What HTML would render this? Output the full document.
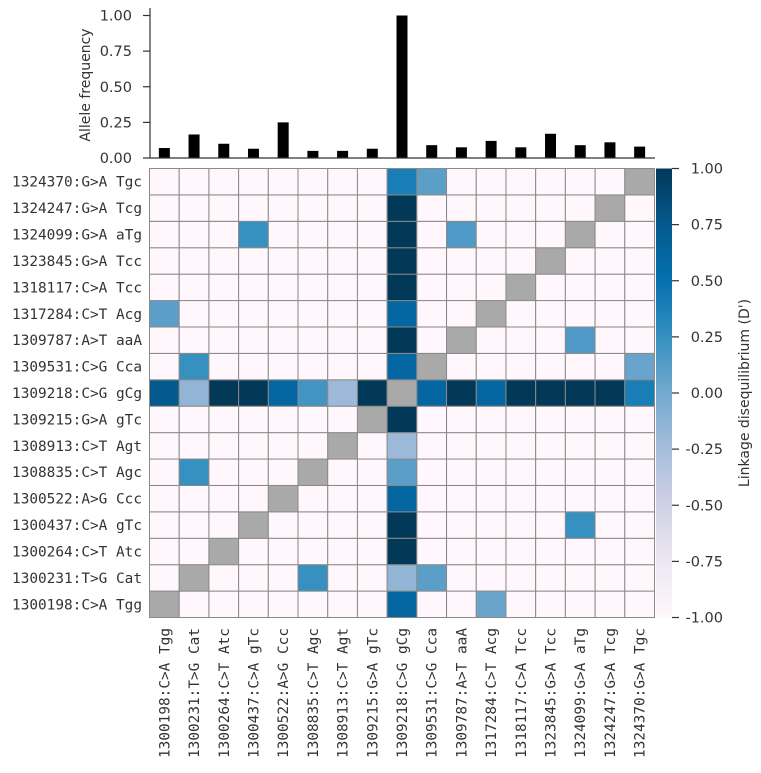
<!DOCTYPE html>
<html><head><meta charset="utf-8"><style>
body{margin:0;background:#fff}
svg text{font-family:"DejaVu Sans","Liberation Sans",sans-serif;fill:#333}
.mono{font-family:"DejaVu Sans Mono","Liberation Mono",monospace;font-size:14.4px}
</style></head><body>
<svg id="chart" width="761" height="768" xmlns="http://www.w3.org/2000/svg">
<defs><linearGradient id="cbg" x1="0" y1="1" x2="0" y2="0">
<stop offset="0" stop-color="#fff7fb"/><stop offset="0.125" stop-color="#ece7f2"/><stop offset="0.25" stop-color="#d0d1e6"/><stop offset="0.375" stop-color="#a6bddb"/><stop offset="0.5" stop-color="#74a9cf"/><stop offset="0.625" stop-color="#3690c0"/><stop offset="0.75" stop-color="#0570b0"/><stop offset="0.875" stop-color="#045a8d"/><stop offset="1" stop-color="#023858"/></linearGradient></defs>
</svg>
<script>
const variants=["1300198:C>A Tgg","1300231:T>G Cat","1300264:C>T Atc","1300437:C>A gTc","1300522:A>G Ccc","1308835:C>T Agc","1308913:C>T Agt","1309215:G>A gTc","1309218:C>G gCg","1309531:C>G Cca","1309787:A>T aaA","1317284:C>T Acg","1318117:C>A Tcc","1323845:G>A Tcc","1324099:G>A aTg","1324247:G>A Tcg","1324370:G>A Tgc"];
const alleleFreq=[0.07,0.165,0.10,0.065,0.25,0.05,0.05,0.065,1.0,0.09,0.075,0.12,0.075,0.17,0.09,0.11,0.08];
const freqTicks=["0.00","0.25","0.50","0.75","1.00"];
const cbTicks=["-1.00","-0.75","-0.50","-0.25","0.00","0.25","0.50","0.75","1.00"];
// non-default D' values: [rowVariantIndex, colVariantIndex, value]; default -1, diagonal NaN
const ldEntries=[
[16,8,0.4],[16,9,0.1],[15,8,1],[14,3,0.25],[14,8,1],[14,10,0.15],[13,8,1],[12,8,1],
[11,0,0.1],[11,8,0.6],[10,8,1],[10,14,0.15],[9,1,0.25],[9,8,0.6],[9,16,0.05],
[8,0,0.75],[8,1,-0.15],[8,2,1],[8,3,1],[8,4,0.6],[8,5,0.2],[8,6,-0.2],[8,7,1],[8,9,0.6],[8,10,1],[8,11,0.6],[8,12,1],[8,13,1],[8,14,1],[8,15,1],[8,16,0.4],
[7,8,1],[6,8,-0.2],[5,1,0.25],[5,8,0.1],[4,8,0.6],[3,8,1],[3,14,0.25],[2,8,1],[1,5,0.25],[1,8,-0.15],[1,9,0.1],[0,8,0.6],[0,11,0.05]];
const NS="http://www.w3.org/2000/svg",svg=document.getElementById('chart');
function mk(t,a,p){const e=document.createElementNS(NS,t);for(const k in a)e.setAttribute(k,a[k]);(p||svg).appendChild(e);return e;}
const n=variants.length,L=149.5,R=654.5,T=168.5,B=617.5,cw=(R-L)/n,rh=(B-T)/n;
const colX=i=>L+i*cw, rowY=j=>B-(j+1)*rh;
const by=v=>158-v*(158-15.5);
const stops=["#fff7fb","#ece7f2","#d0d1e6","#a6bddb","#74a9cf","#3690c0","#0570b0","#045a8d","#023858"];
function hex(h){return [1,3,5].map(i=>parseInt(h.substr(i,2),16));}
function cmap(v){const t=(Math.max(-1,Math.min(1,v))+1)/2*8,i=Math.min(7,Math.floor(t)),f=t-i,a=hex(stops[i]),b=hex(stops[i+1]);return 'rgb('+a.map((x,k)=>Math.round(x+(b[k]-x)*f)).join(',')+')';}
const M=[];for(let j=0;j<n;j++){M.push([]);for(let i=0;i<n;i++)M[j].push(i===j?NaN:-1);}
ldEntries.forEach(([r,c,v])=>{M[r][c]=v;});
// bar chart
for(let i=0;i<n;i++){const cx=colX(i)+cw/2;
const b=mk('rect',{x:cx-5.5,y:by(alleleFreq[i]),width:11,height:158-by(alleleFreq[i]),fill:'#000'});

}
let ax=mk('line',{x1:150,y1:8,x2:150,y2:158,stroke:'#333','stroke-width':1.2});

let bx=mk('line',{x1:150,y1:158,x2:655,y2:158,stroke:'#333','stroke-width':1.2});

freqTicks.forEach(t=>{const y=by(parseFloat(t));mk('line',{x1:143,y1:y,x2:150,y2:y,stroke:'#333','stroke-width':1.2});
const tx=mk('text',{x:132,y:y+5,'text-anchor':'end','font-size':14.5});tx.textContent=t;
});
let yt=mk('text',{x:90,y:85,'text-anchor':'middle','font-size':14,transform:'rotate(-90 90 85)'});yt.textContent='Allele frequency';

// heatmap
for(let j=0;j<n;j++)for(let i=0;i<n;i++){const v=M[j][i];
const c=mk('rect',{x:colX(i),y:rowY(j),width:cw,height:rh,fill:isNaN(v)?'#a9a9a9':cmap(v),stroke:'#8a8a8a','stroke-width':1});

}
for(let j=0;j<n;j++){const t=mk('text',{x:142,y:rowY(j)+rh/2+5,'text-anchor':'end',class:'mono'});t.textContent=variants[j];
}
for(let i=0;i<n;i++){const x=colX(i)+cw/2+5,y=628;const t=mk('text',{x:x,y:y,'text-anchor':'end',class:'mono',transform:'rotate(-90 '+x+' '+y+')'});t.textContent=variants[i];
}
// colorbar
let cb=mk('rect',{x:656,y:T,width:16,height:B-T,fill:'url(#cbg)'});

cbTicks.forEach(t=>{const y=B-(parseFloat(t)+1)/2*(B-T);mk('line',{x1:672,y1:y,x2:679,y2:y,stroke:'#333','stroke-width':1.2});
const tx=mk('text',{x:723,y:y+5,'text-anchor':'end','font-size':14.5});tx.textContent=t;
});
let ct=mk('text',{x:749,y:393,'text-anchor':'middle','font-size':14,transform:'rotate(-90 749 393)'});ct.textContent="Linkage disequilibrium (D')";

</script>
</body></html>
